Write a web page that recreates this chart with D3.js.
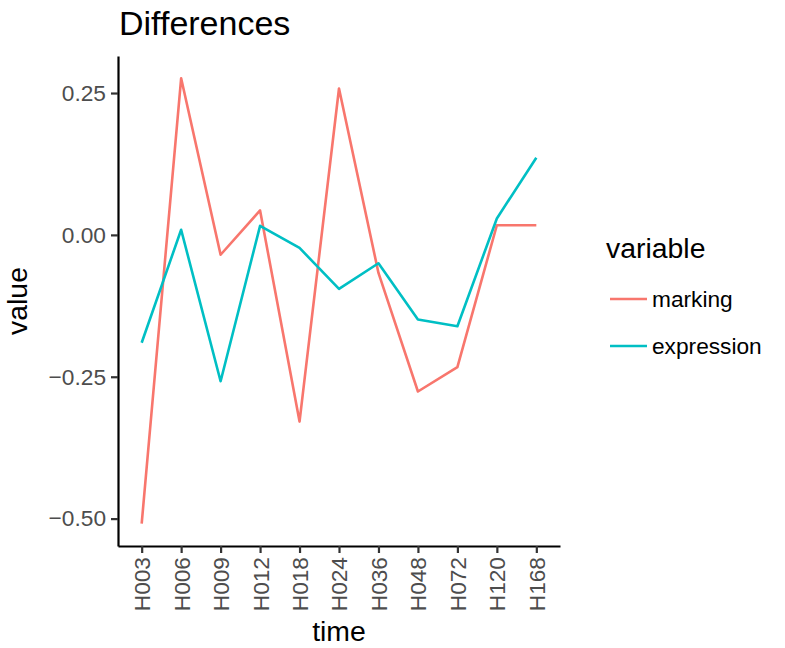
<!DOCTYPE html>
<html>
<head>
<meta charset="utf-8">
<script src="https://cdn.jsdelivr.net/npm/d3@7"></script>
<style>
  body { margin: 0; background: #fff; }
  text { font-family: "Liberation Sans", Arial, sans-serif; }
</style>
</head>
<body>
<div id="chart"></div>
<script>
const times = ["H003", "H006", "H009", "H012", "H018", "H024", "H036", "H048", "H072", "H120", "H168"];
const marking = [-0.509, 0.276, -0.035, 0.043, -0.329, 0.258, -0.067, -0.276, -0.233, 0.017, 0.017];
const expression = [-0.190, 0.009, -0.258, 0.016, -0.023, -0.095, -0.050, -0.149, -0.161, 0.029, 0.136];
const seriesNames = ["marking", "expression"];
const seriesColors = ["#F8766D", "#00BFC4"];
const yTicks = [0.25, 0, -0.25, -0.5];

const width = 785, height = 648;
const margin = { top: 56, left: 118, bottom: 102, right: 225 };
const iwidth = width - margin.left - margin.right;
const iheight = height - margin.top - margin.bottom;

const svg = d3.select("#chart").append("svg")
  .attr("width", width)
  .attr("height", height);

const series = [marking, expression].map((vals, i) => ({
  name: seriesNames[i],
  color: seriesColors[i],
  values: vals.map((v, j) => ({ time: times[j], value: v }))
}));

// ggplot style 5% expansion
const all = marking.concat(expression);
const lo = d3.min(all), hi = d3.max(all);
const pad = (hi - lo) * 0.05;

const x = d3.scalePoint()
  .domain(times)
  .range([0, iwidth])
  .padding(0.6);

const y = d3.scaleLinear()
  .domain([lo - pad, hi + pad])
  .range([iheight, 0]);

const g = svg.append("g").attr("transform", `translate(${margin.left},${margin.top})`);

const line = d3.line()
  .x(d => x(d.time))
  .y(d => y(d.value));

g.selectAll("path.series")
  .data(series)
  .enter().append("path")
  .attr("class", "series")
  .attr("fill", "none")
  .attr("stroke", d => d.color)
  .attr("stroke-width", 2.6)
  .attr("stroke-linejoin", "round")
  .attr("d", d => line(d.values));

// axes
const xAxis = g.append("g")
  .attr("transform", `translate(0,${iheight})`)
  .call(d3.axisBottom(x).tickSize(7).tickSizeOuter(0).tickPadding(4));
xAxis.selectAll("text")
  .attr("transform", "rotate(-90)")
  .attr("text-anchor", "end")
  .attr("dy", "0.35em")
  .attr("x", -11)
  .attr("y", 0);

const yAxis = g.append("g")
  .call(d3.axisLeft(y).tickValues(yTicks).tickSize(7).tickSizeOuter(0).tickPadding(5)
    .tickFormat(d => d3.format(".2f")(d).replace("-", "\u2212")));

[xAxis, yAxis].forEach(ax => {
  ax.select(".domain").attr("stroke", "#000").attr("stroke-width", 2.2);
  ax.selectAll(".tick line").attr("stroke", "#333").attr("stroke-width", 2.2);
  ax.selectAll(".tick text").attr("fill", "#4d4d4d").style("font-size", "22.7px");
});

// titles
svg.append("text")
  .attr("x", 119)
  .attr("y", 35)
  .style("font-size", "34px")
  .attr("fill", "#000")
  .text("Differences");

svg.append("text")
  .attr("x", margin.left + iwidth / 2)
  .attr("y", 641)
  .attr("text-anchor", "middle")
  .style("font-size", "28.4px")
  .text("time");

svg.append("text")
  .attr("transform", `translate(27,${margin.top + iheight / 2}) rotate(-90)`)
  .attr("text-anchor", "middle")
  .style("font-size", "28.4px")
  .text("value");

// legend
const legend = svg.append("g").attr("transform", "translate(606,0)");
legend.append("text")
  .attr("x", 0)
  .attr("y", 258)
  .style("font-size", "28.4px")
  .text("variable");

const items = legend.selectAll("g.item")
  .data(series)
  .enter().append("g")
  .attr("class", "item")
  .attr("transform", (d, i) => `translate(0,${299 + i * 47})`);

items.append("line")
  .attr("x1", 4).attr("x2", 41)
  .attr("y1", 0).attr("y2", 0)
  .attr("stroke", d => d.color)
  .attr("stroke-width", 2.6);

items.append("text")
  .attr("x", 46)
  .attr("y", 0)
  .attr("dy", "0.35em")
  .style("font-size", "22.7px")
  .text(d => d.name);
</script>
</body>
</html>
